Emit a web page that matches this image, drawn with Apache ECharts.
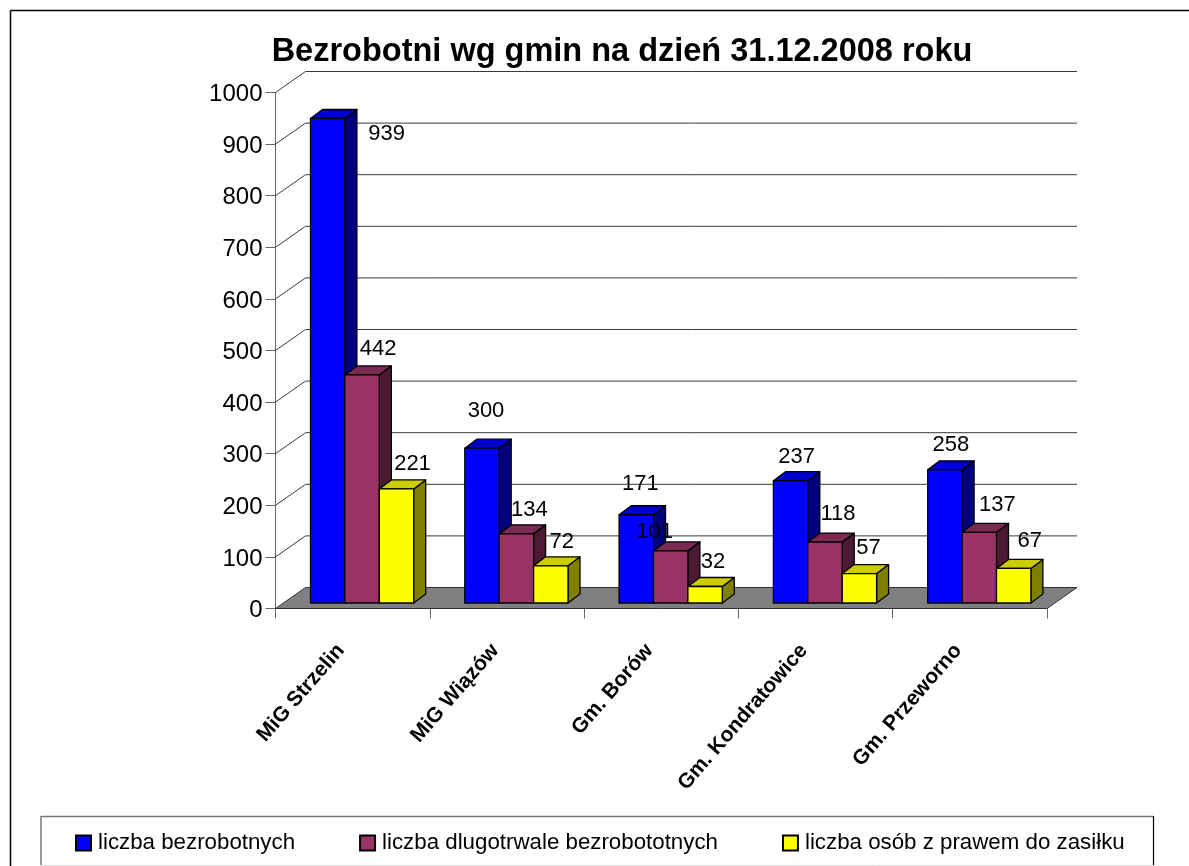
<!DOCTYPE html>
<html><head><meta charset="utf-8">
<style>html,body{margin:0;padding:0;background:#fff}#c{width:1189px;height:866px}</style>
<script src="https://cdn.jsdelivr.net/npm/echarts@6/dist/echarts.min.js"></script>
</head><body><div id="c"></div>
<script>
const categories = ['MiG Strzelin','MiG Wiązów','Gm. Borów','Gm. Kondratowice','Gm. Przeworno'];
const yTicks = [0,100,200,300,400,500,600,700,800,900,1000];
const bezrobotni = [939,300,171,237,258];
const dlugotrwale = [442,134,101,118,137];
const zasilek = [221,72,32,57,67];
const names = ['liczba bezrobotnych','liczba dlugotrwale bezrobototnych','liczba osób z prawem do zasiłku'];
// label nudges from each bar's top-centre, per series then category
const nudges = [
  [[59,15],[4,-37],[4,-31],[6,-24],[6,-25]],
  [[16,-26],[13,-24],[-16,-19],[13,-28],[18,-27]],
  [[16,-25],[11,-24],[8,-25],[9,-26],[16,-27]]
];
const wallDx = 30, wallDy = 21;           // depth of the walls and floor
const barLift = 5.5;                      // bars stand slightly inside the floor
const barStart = 35, barW = 34.4;         // first bar offset and bar width
const depthDx = 12, depthDy = 9;          // depth of a bar
const faces = [
  {front:'#0000FF', top:'#0000CC', side:'#000080'},
  {front:'#993366', top:'#7A2952', side:'#4D1A33'},
  {front:'#FFFF00', top:'#CCCC00', side:'#808000'}
];
const all = [bezrobotni, dlugotrwale, zasilek];
const stroke = {stroke:'#000', lineWidth:1.3, lineJoin:'round'};

function poly(points, fill){
  return {type:'polygon', shape:{points}, style:Object.assign({fill}, stroke)};
}
function barSeries(s){
  return {
    type:'custom', name:names[s], coordinateSystem:'cartesian2d',
    itemStyle:{color:faces[s].front, borderColor:'#000', borderWidth:1}, z:3,
    encode:{x:0,y:1},
    data: all[s].map((v,i)=>[i,v]),
    renderItem(params, api){
      const band = api.size([1,0])[0];
      const top = api.coord([api.value(0), api.value(1)]);
      const base = api.coord([api.value(0), 0]);
      const x0 = top[0] - band/2 + barStart + s*barW;
      const x1 = x0 + barW;
      const yT = top[1] - barLift, yB = base[1] - barLift;
      return {type:'group', children:[
        poly([[x1,yT],[x1+depthDx,yT-depthDy],[x1+depthDx,yB-depthDy],[x1,yB]], faces[s].side),
        poly([[x0,yT],[x0+depthDx,yT-depthDy],[x1+depthDx,yT-depthDy],[x1,yT]], faces[s].top),
        poly([[x0,yT],[x1,yT],[x1,yB],[x0,yB]], faces[s].front)
      ]};
    }
  };
}
const wallSeries = {
  type:'custom', name:'walls', coordinateSystem:'cartesian2d', z:1, silent:true,
  encode:{y:0}, data: yTicks.map(v=>[v]),
  renderItem(params, api){
    const v = api.value(0);
    const band = api.size([1,0])[0];
    const L = api.coord([0,v]), R = api.coord([categories.length-1,v]);
    const xl = L[0]-band/2, xr = R[0]+band/2, y = L[1];
    const kids = [];
    if (v===0) kids.push({type:'polygon', shape:{points:[[xl,y],[xl+wallDx,y-wallDy],[xr+wallDx,y-wallDy],[xr,y]]},
      style:{fill:'#808080', stroke:'#333', lineWidth:1}});
    else kids.push({type:'polyline', shape:{points:[[xl,y],[xl+wallDx,y-wallDy],[xr+wallDx,y-wallDy]]},
      style:{fill:'none', stroke:'#3a3a3a', lineWidth:1}});
    return {type:'group', children:kids};
  }
};
const labelData = [];
all.forEach((arr,s)=>arr.forEach((v,i)=>labelData.push([i,v,s])));
const labelSeries = {
  type:'custom', name:'labels', coordinateSystem:'cartesian2d', z:5, silent:true,
  encode:{x:0,y:1}, data:labelData,
  renderItem(params, api){
    const i = api.value(0), v = api.value(1), s = api.value(2);
    const band = api.size([1,0])[0];
    const c = api.coord([i,v]);
    const n = nudges[s][i];
    return {type:'text', x:c[0]-band/2+barStart+(s+0.5)*barW+n[0], y:c[1]-barLift+n[1],
      style:{text:String(v), font:'22px "Liberation Sans"', fill:'#000', align:'center', verticalAlign:'middle'}};
  }
};
const chart = echarts.init(document.getElementById('c'), null, {renderer:'canvas'});
const line = (x1,y1,x2,y2,color,w) => ({type:'line', shape:{x1,y1,x2,y2}, style:{stroke:color, lineWidth:w}, silent:true});
chart.setOption({
  animation:false,
  backgroundColor:'#fff',
  title:{text:'Bezrobotni wg gmin na dzień 31.12.2008 roku', left:622, top:36, padding:0, textAlign:'center',
    textStyle:{fontFamily:'Liberation Sans', fontWeight:'bold', fontSize:32.5, color:'#000'}},
  legend:{data:names, left:75, top:832, padding:0, itemWidth:15, itemHeight:15, itemGap:64, icon:'rect',
    textStyle:{fontFamily:'Liberation Sans', fontSize:22.3, color:'#000', padding:[0,0,0,2]}, selectedMode:false},
  grid:{left:275.5, right:142, top:92.5, bottom:257.5},
  xAxis:{type:'category', data:categories, boundaryGap:true,
    axisLine:{show:true, lineStyle:{color:'#666', width:1}},
    axisTick:{show:true, length:10, alignWithLabel:false, lineStyle:{color:'#666', width:1}},
    axisLabel:{interval:0, rotate:49, margin:25, padding:[0,18,0,0], fontFamily:'Liberation Sans', fontWeight:'bold', fontSize:21, color:'#000'},
    splitLine:{show:false}},
  yAxis:{type:'value', min:0, max:1000, interval:100,
    axisLine:{show:true, lineStyle:{color:'#666', width:1}},
    axisTick:{show:true, length:10, lineStyle:{color:'#666', width:1}},
    axisLabel:{margin:13, color:'#000', formatter:v=>'{t|'+v+'}',
      rich:{t:{fontFamily:'Liberation Sans', fontSize:24, color:'#000', padding:[4,0,0,0]}}},
    splitLine:{show:false}},
  graphic:[
    line(10.5,10.5,1189,10.5,'#000',1.5),
    line(10.5,10.5,10.5,866,'#000',1.5),
    line(41,816.5,1153.5,816.5,'#777',1.5),
    line(41,816,41,865,'#777',1.5),
    line(1153.5,816,1153.5,865,'#000',1.2),
    line(41,865.5,1153.5,865.5,'#ddd',1)
  ],
  series:[wallSeries, barSeries(0), barSeries(1), barSeries(2), labelSeries]
});
</script></body></html>
